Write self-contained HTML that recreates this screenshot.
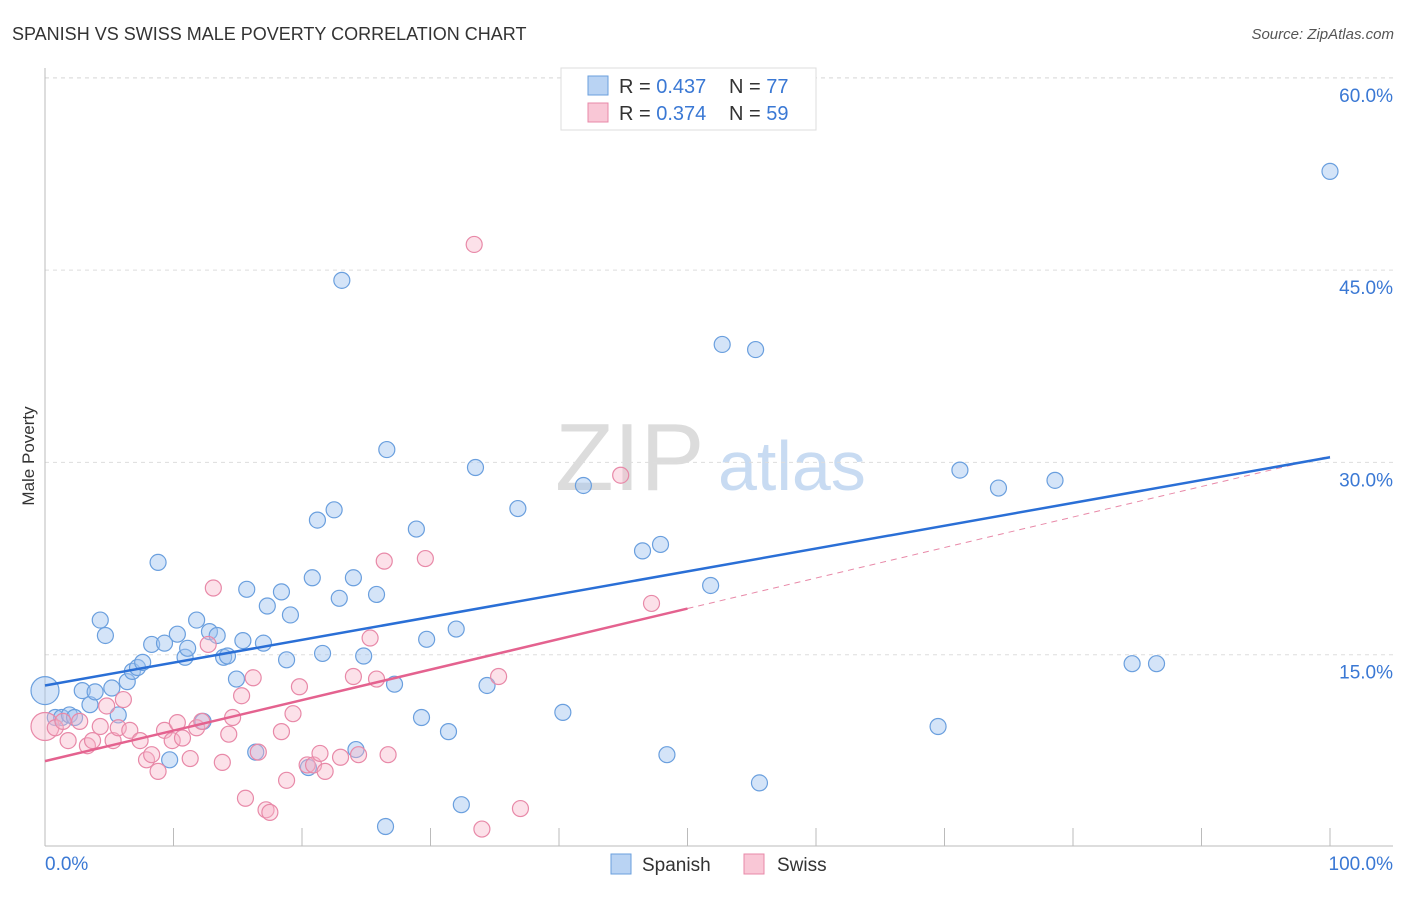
<!DOCTYPE html>
<html><head><meta charset="utf-8">
<style>
body{margin:0;background:#fff;font-family:"Liberation Sans",sans-serif;}
svg text{font-family:"Liberation Sans",sans-serif;}
</style></head>
<body>
<svg id="chart" width="1406" height="892" xmlns="http://www.w3.org/2000/svg">
<text x="12" y="40" font-size="18" fill="#333">SPANISH VS SWISS MALE POVERTY CORRELATION CHART</text>
<text x="1394" y="39" font-size="15" fill="#555" font-style="italic" text-anchor="end">Source: ZipAtlas.com</text>
<g>
<text x="555" y="490" font-size="96" fill="#dcdcdc" font-family="Liberation Serif,serif">ZIP</text>
<text x="718" y="490" font-size="70" fill="#c8dbf2">atlas</text>
</g>
<g id="grid"></g>
<g id="axes"></g>
<g id="marks"></g>
<text x="34" y="456" font-size="17" fill="#333" text-anchor="middle" transform="rotate(-90 34 456)">Male Poverty</text>
<g>
<rect x="561" y="68" width="255" height="62" fill="#fff" stroke="#ddd"/>
<rect x="588" y="76" width="20" height="19" fill="#b9d3f3" stroke="#6a9fde"/>
<text x="619" y="93" font-size="20" fill="#333">R = <tspan fill="#3a78d4">0.437</tspan></text>
<text x="729" y="93" font-size="20" fill="#333">N = <tspan fill="#3a78d4">77</tspan></text>
<rect x="588" y="103" width="20" height="19" fill="#f9c7d6" stroke="#e889a8"/>
<text x="619" y="120" font-size="20" fill="#333">R = <tspan fill="#3a78d4">0.374</tspan></text>
<text x="729" y="120" font-size="20" fill="#333">N = <tspan fill="#3a78d4">59</tspan></text>
</g>
<g>
<rect x="611" y="854" width="20" height="20" fill="#b9d3f3" stroke="#6a9fde"/>
<text x="642" y="871" font-size="19" fill="#333">Spanish</text>
<rect x="744" y="854" width="20" height="20" fill="#f9c7d6" stroke="#e889a8"/>
<text x="777" y="871" font-size="19" fill="#333">Swiss</text>
</g>
</svg>
<script>
const spanishX=[0,0.8,1.3,1.9,2.3,2.9,3.5,3.9,4.3,4.7,5.2,5.7,6.4,6.8,7.2,7.6,8.3,8.8,9.3,9.7,10.3,10.9,11.1,11.8,12.3,12.8,13.4,13.9,14.2,14.9,15.4,15.7,16.4,17.0,17.3,18.4,18.8,19.1,20.5,20.8,21.2,21.6,22.5,22.9,23.1,24.0,24.2,24.8,25.8,26.5,26.6,27.2,28.9,29.3,29.7,31.4,32.0,32.4,33.5,34.4,36.8,40.3,41.9,46.5,47.9,48.4,51.8,52.7,55.3,55.6,69.5,71.2,74.2,78.6,84.6,86.5,100];
const spanishY=[12.2,10.1,10.1,10.3,10.1,12.2,11.1,12.1,17.7,16.5,12.4,10.3,12.9,13.7,14.0,14.4,15.8,22.2,15.9,6.8,16.6,14.8,15.5,17.7,9.8,16.8,16.5,14.8,14.9,13.1,16.1,20.1,7.4,15.9,18.8,19.9,14.6,18.1,6.2,21.0,25.5,15.1,26.3,19.4,44.2,21.0,7.6,14.9,19.7,1.6,31.0,12.7,24.8,10.1,16.2,9.0,17.0,3.3,29.6,12.6,26.4,10.5,28.2,23.1,23.6,7.2,20.4,39.2,38.8,5.0,9.4,29.4,28.0,28.6,14.3,14.3,52.7];
const swissX=[0,0.8,1.4,1.8,2.7,3.3,3.7,4.3,4.8,5.3,5.7,6.1,6.6,7.4,7.9,8.3,8.8,9.3,9.9,10.3,10.7,11.3,11.8,12.2,12.7,13.1,13.8,14.3,14.6,15.3,15.6,16.2,16.6,17.2,17.5,18.4,18.8,19.3,19.8,20.4,20.9,21.4,21.8,23.0,24.0,24.4,25.3,25.8,26.4,26.7,29.6,33.4,34.0,35.3,37.0,44.8,47.2];
const swissY=[9.4,9.3,9.8,8.3,9.8,7.9,8.3,9.4,11.0,8.3,9.3,11.5,9.1,8.3,6.8,7.2,5.9,9.1,8.3,9.7,8.5,6.9,9.3,9.8,15.8,20.2,6.6,8.8,10.1,11.8,3.8,13.2,7.4,2.9,2.7,9.0,5.2,10.4,12.5,6.4,6.4,7.3,5.9,7.0,13.3,7.2,16.3,13.1,22.3,7.2,22.5,47.0,1.4,13.3,3.0,29.0,19.0];
const yTicks=[15,30,45,60];
const yTickLabels=["15.0%","30.0%","45.0%","60.0%"];
const xTicks=[0,10,20,30,40,50,60,70,80,90,100];
const spanishTrend=[12.6,30.4];
const swissTrend=[6.7,30.5];
const swissSolidEnd=50;

const X0=45,X1=1330,Y0=847,YS=12.82;
function sx(v){return X0+(X1-X0)*v/100;}
function sy(v){return Y0-v*YS;}
const NS="http://www.w3.org/2000/svg";
function mk(tag,attrs,parent){const e=document.createElementNS(NS,tag);for(const k in attrs)e.setAttribute(k,attrs[k]);parent.appendChild(e);return e;}
const grid=document.getElementById('grid'),axes=document.getElementById('axes'),marks=document.getElementById('marks');
const topLine=mk('line',{x1:45,x2:1393,y1:78,y2:78,stroke:'#ddd','stroke-dasharray':'4,4'},grid);


yTicks.forEach((t,i)=>{
 const l=mk('line',{x1:45,x2:1393,y1:sy(t),y2:sy(t),stroke:'#ddd','stroke-dasharray':'4,4'},grid);
 
 
 const tx=mk('text',{x:1393,y:sy(t)+24,'font-size':19,fill:'#3a78d4','text-anchor':'end'},axes);
 tx.textContent=yTickLabels[i];
 
 
});
const ya=mk('line',{x1:45,x2:45,y1:68,y2:846,stroke:'#bbb'},axes);


const xa=mk('line',{x1:45,x2:1393,y1:846,y2:846,stroke:'#bbb'},axes);


xTicks.forEach(t=>{
 const l=mk('line',{x1:sx(t),x2:sx(t),y1:828,y2:846,stroke:'#bbb'},axes);
 
 
});
const xl0=mk('text',{x:45,y:870,'font-size':19,fill:'#3a78d4'},axes);xl0.textContent='0.0%';


const xl1=mk('text',{x:1393,y:870,'font-size':19,fill:'#3a78d4','text-anchor':'end'},axes);xl1.textContent='100.0%';



spanishX.forEach((x,i)=>{
 const c=mk('circle',{cx:sx(x),cy:sy(spanishY[i]),r:i===0?14:8,fill:'rgba(160,196,240,0.45)',stroke:'#6a9fde','stroke-width':1.2},marks);
 
 
});
swissX.forEach((x,i)=>{
 const c=mk('circle',{cx:sx(x),cy:sy(swissY[i]),r:i===0?14:8,fill:'rgba(248,180,200,0.4)',stroke:'#e889a8','stroke-width':1.2},marks);
 
 
});
const sw=v=>swissTrend[0]+(swissTrend[1]-swissTrend[0])*v/100;
const pd=mk('line',{x1:sx(swissSolidEnd),y1:sy(sw(swissSolidEnd)),x2:sx(100),y2:sy(swissTrend[1]),stroke:'#e889a8','stroke-width':1,'stroke-dasharray':'6,5'},marks);


const ps=mk('line',{x1:sx(0),y1:sy(swissTrend[0]),x2:sx(swissSolidEnd),y2:sy(sw(swissSolidEnd)),stroke:'#e4628f','stroke-width':2.5},marks);


const bl=mk('line',{x1:sx(0),y1:sy(spanishTrend[0]),x2:sx(100),y2:sy(spanishTrend[1]),stroke:'#2a6fd6','stroke-width':2.5},marks);


</script>
</body></html>
